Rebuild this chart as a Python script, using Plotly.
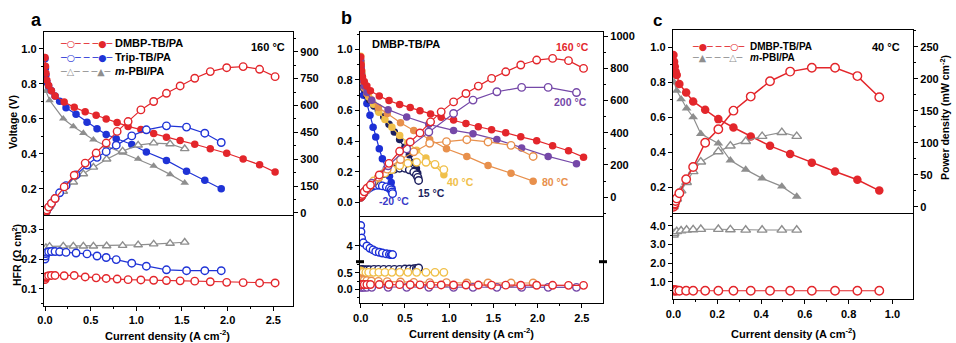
import plotly.graph_objects as go

# ---------------- data ----------------
# 160 °C DMBP-TB/PA (panels a and b)
j160 = [0, 0.005, 0.01, 0.02, 0.04, 0.07, 0.11, 0.21, 0.32, 0.44, 0.56, 0.67, 0.79, 0.91, 1.05, 1.19, 1.33, 1.48, 1.64, 1.81, 1.99, 2.17, 2.35, 2.52]
v160 = [0.95, 0.90, 0.86, 0.82, 0.79, 0.76, 0.73, 0.695, 0.665, 0.64, 0.62, 0.598, 0.578, 0.556, 0.538, 0.515, 0.494, 0.475, 0.454, 0.428, 0.403, 0.37, 0.337, 0.295]
p160_a = [0, 4, 9, 16, 32, 53, 80, 145, 210, 278, 334, 390, 455, 510, 575, 622, 668, 709, 752, 789, 811, 817, 802, 761]
p160_b = [0, 5, 9, 17, 33, 55, 75, 138, 210, 285, 343, 399, 468, 530, 592, 644, 690, 738, 779, 821, 852, 862, 848, 800]
hfr160 = [0.131, 0.136, 0.14, 0.142, 0.144, 0.145, 0.145, 0.144, 0.145, 0.14, 0.137, 0.135, 0.133, 0.131, 0.13, 0.129, 0.128, 0.127, 0.126, 0.124, 0.122, 0.121, 0.12, 0.12]

# Trip-TB/PA 160 °C (panel a)
j_trip = [0, 0.005, 0.01, 0.02, 0.04, 0.07, 0.11, 0.16, 0.23, 0.34, 0.46, 0.57, 0.67, 0.78, 0.95, 1.11, 1.33, 1.55, 1.75, 1.93]
v_trip = [0.943, 0.89, 0.85, 0.81, 0.787, 0.76, 0.73, 0.70, 0.663, 0.625, 0.58, 0.543, 0.51, 0.486, 0.453, 0.41, 0.362, 0.30, 0.248, 0.20]
p_trip = [0, 4, 9, 16, 31, 53, 80, 112, 152, 212, 267, 310, 342, 378, 430, 464, 486, 479, 445, 393]
hfr_trip = [0.20, 0.21, 0.218, 0.222, 0.224, 0.225, 0.225, 0.224, 0.222, 0.22, 0.217, 0.21, 0.205, 0.198, 0.186, 0.176, 0.164, 0.161, 0.161, 0.161]

# m-PBI/PA 160 °C (panel a)
j_mpbi_a = [0, 0.01, 0.05, 0.2, 0.31, 0.42, 0.53, 0.675, 0.85, 1.02, 1.19, 1.37, 1.53]
v_mpbi_a = [0.80, 0.758, 0.705, 0.60, 0.556, 0.518, 0.48, 0.443, 0.405, 0.37, 0.33, 0.282, 0.234]
p_mpbi_a = [0, 8, 37, 120, 172, 218, 255, 300, 345, 378, 390, 385, 358]
hfr_mpbi_a = [0.231, 0.238, 0.242, 0.243, 0.243, 0.243, 0.243, 0.244, 0.245, 0.247, 0.25, 0.252, 0.256]

# DMBP-TB/PA at other temperatures (panel b)
j200 = [0, 0.005, 0.01, 0.02, 0.04, 0.07, 0.125, 0.31, 0.52, 0.77, 1.05, 1.27, 1.54, 1.82, 2.12, 2.44]
v200 = [0.93, 0.88, 0.84, 0.80, 0.76, 0.72, 0.667, 0.606, 0.558, 0.51, 0.47, 0.449, 0.41, 0.355, 0.30, 0.252]
p200 = [0, 4, 9, 17, 32, 53, 86, 195, 300, 405, 520, 603, 655, 682, 682, 650]
hfr200 = [0.07, 0.07, 0.07, 0.06, 0.06, 0.06, 0.06, 0.06, 0.06, 0.06, 0.06, 0.06, 0.06, 0.06, 0.06, 0.06]

j80 = [0, 0.005, 0.01, 0.02, 0.04, 0.07, 0.12, 0.2, 0.3, 0.45, 0.6, 0.78, 0.97, 1.2, 1.44, 1.70, 1.95]
v80 = [0.92, 0.87, 0.83, 0.79, 0.75, 0.71, 0.67, 0.62, 0.58, 0.52, 0.47, 0.41, 0.35, 0.30, 0.24, 0.19, 0.138]
p80 = [0, 4, 8, 16, 30, 50, 80, 124, 174, 234, 282, 335, 345, 357, 343, 322, 253]
hfr80 = [0.32, 0.30, 0.29, 0.28, 0.27, 0.26, 0.25, 0.24, 0.23, 0.22, 0.21, 0.20, 0.20, 0.19, 0.19, 0.19, 0.19]

# 40 °C DMBP-TB/PA (panels b and c)
j40 = [0, 0.003, 0.006, 0.01, 0.015, 0.027, 0.058, 0.09, 0.145, 0.205, 0.274, 0.353, 0.441, 0.533, 0.632, 0.738, 0.84, 0.94]
v40 = [0.956, 0.918, 0.89, 0.86, 0.842, 0.79, 0.741, 0.69, 0.642, 0.589, 0.541, 0.49, 0.436, 0.39, 0.34, 0.289, 0.242, 0.18]
p40 = [0, 3, 5, 9, 13, 21, 43, 62, 100, 121, 150, 172, 196, 211, 217, 217, 204, 171]
hfr40 = [0.55, 0.53, 0.52, 0.52, 0.52, 0.51, 0.51, 0.51, 0.51, 0.51, 0.51, 0.51, 0.51, 0.51, 0.51, 0.51, 0.51, 0.51]

j15 = [0, 0.005, 0.01, 0.02, 0.04, 0.07, 0.10, 0.15, 0.20, 0.26, 0.32, 0.38, 0.44, 0.50, 0.55, 0.60, 0.63, 0.645, 0.655]
v15 = [0.92, 0.86, 0.82, 0.78, 0.74, 0.70, 0.67, 0.63, 0.60, 0.56, 0.51, 0.46, 0.41, 0.36, 0.31, 0.26, 0.22, 0.19, 0.16]
p15 = [0, 4, 8, 16, 30, 49, 67, 95, 120, 146, 163, 175, 180, 180, 170, 156, 139, 123, 104]
hfr15 = [0.58, 0.58, 0.59, 0.59, 0.59, 0.59, 0.59, 0.60, 0.60, 0.60, 0.60, 0.60, 0.60, 0.61, 0.61, 0.62, 0.63, 0.63, 0.64]

jm20 = [0, 0.003, 0.01, 0.03, 0.07, 0.105, 0.14, 0.17, 0.21, 0.245, 0.29, 0.325, 0.345, 0.355, 0.36]
vm20 = [0.88, 0.80, 0.755, 0.70, 0.646, 0.57, 0.49, 0.427, 0.35, 0.285, 0.22, 0.17, 0.13, 0.09, 0.06]
pm20 = [0, 2, 8, 21, 45, 60, 69, 73, 74, 70, 64, 55, 45, 32, 22]
hfrm20 = [5.3, 4.9, 4.5, 4.2, 4.0, 3.85, 3.75, 3.65, 3.6, 3.55, 3.5, 3.47, 3.45, 3.45, 3.45]

# m-PBI/PA 40 °C (panel c)
j_mpbi_c = [0, 0.003, 0.015, 0.035, 0.06, 0.09, 0.125, 0.205, 0.26, 0.33, 0.405, 0.495, 0.563]
v_mpbi_c = [0.90, 0.80, 0.752, 0.703, 0.651, 0.60, 0.505, 0.45, 0.353, 0.30, 0.25, 0.204, 0.146]
p_mpbi_c = [0, 3, 12, 25, 38, 55, 70, 86, 95, 102, 110, 116, 110]
hfr_mpbi_c = [3.51, 3.60, 3.70, 3.74, 3.78, 3.80, 3.82, 3.82, 3.80, 3.78, 3.78, 3.78, 3.78]

# ---------------- styling ----------------
RED = '#e3262b'
BLUE = '#1f33d6'
GREY = '#8e8e8e'
PURPLE = '#7548a8'
ORANGE = '#e8904c'
YELLOW = '#f0c04a'
NAVY = '#1c1f5e'
M20 = '#1c2fd6'

W, H = 956, 343
def PX(x): return x / W
def PY(y): return 1 - y / H

fig = go.Figure()

def series(x, y, xa, ya, color, sym, filled, size=7.5, lw=1.2):
    if filled:
        marker = dict(symbol=sym, size=size, color=color, line=dict(width=0))
    else:
        marker = dict(symbol=sym, size=size, color='white', line=dict(color=color, width=1.4))
    fig.add_trace(go.Scatter(x=x, y=y, xaxis=xa, yaxis=ya, mode='lines+markers',
                             line=dict(color=color, width=lw), marker=marker,
                             showlegend=False, hoverinfo='skip'))

# panel a
series(j_mpbi_a, p_mpbi_a, 'x', 'y2', GREY, 'triangle-up', False)
series(j_trip, p_trip, 'x', 'y2', BLUE, 'circle', False)
series(j160, p160_a, 'x', 'y2', RED, 'circle', False)
series(j_mpbi_a, v_mpbi_a, 'x', 'y', GREY, 'triangle-up', True)
series(j_trip, v_trip, 'x', 'y', BLUE, 'circle', True)
series(j160, v160, 'x', 'y', RED, 'circle', True)
series(j_mpbi_a, hfr_mpbi_a, 'x2', 'y3', GREY, 'triangle-up', False)
series(j_trip, hfr_trip, 'x2', 'y3', BLUE, 'circle', False)
series(j160, hfr160, 'x2', 'y3', RED, 'circle', False)

# panel b
for (jj, vv, pp, hh, col, hy) in [
        (jm20, vm20, pm20, hfrm20, M20, 'y7'),
        (j15, v15, p15, hfr15, NAVY, 'y6'),
        (j40, v40, p40, hfr40, YELLOW, 'y6'),
        (j80, v80, p80, hfr80, ORANGE, 'y6'),
        (j200, v200, p200, hfr200, PURPLE, 'y6'),
        (j160, v160, p160_b, hfr160, RED, 'y6')]:
    series(jj, pp, 'x3', 'y5', col, 'circle', False)
    series(jj, vv, 'x3', 'y4', col, 'circle', True)
    series(jj, hh, 'x4', hy, col, 'circle', False)

# panel c
series(j_mpbi_c, p_mpbi_c, 'x5', 'y9', GREY, 'triangle-up', False, size=8.5)
series(j40, p40, 'x5', 'y9', RED, 'circle', False, size=8.5, lw=1.5)
series(j_mpbi_c, v_mpbi_c, 'x5', 'y8', GREY, 'triangle-up', True, size=8.5)
series(j40, v40, 'x5', 'y8', RED, 'circle', True, size=8.5, lw=1.5)
series(j_mpbi_c, hfr_mpbi_c, 'x6', 'y10', GREY, 'triangle-up', False, size=8.5)
series(j40, hfr40, 'x6', 'y10', RED, 'circle', False, size=8.5)

TF = dict(family='Liberation Sans', size=11, color='black', weight='bold')
base = dict(showline=True, linecolor='black', linewidth=1.3, showgrid=False, zeroline=False,
            ticks='outside', ticklen=4, tickwidth=1.2, tickcolor='black', tickfont=TF,
            automargin=False)
def minor(d, t0=0):
    return dict(ticks='outside', ticklen=2, tickwidth=1, tickcolor='black', dtick=d, tick0=t0)

def upper_x(dom, anchor, rng):
    return {**base, 'domain': dom, 'anchor': anchor, 'range': rng, 'ticks': '',
            'showticklabels': False, 'mirror': True}
def lower_x(dom, anchor, rng, dt, mn):
    return {**base, 'domain': dom, 'anchor': anchor, 'range': rng, 'dtick': dt, 'tick0': 0,
            'tickformat': '.1f', 'minor': minor(mn)}

xa = [PX(44), PX(293)]
xb = [PX(360), PX(603)]
xc = [PX(673), PX(913)]

layout = dict(
    width=W, height=H, margin=dict(l=0, r=0, t=0, b=0, pad=0), autosize=False,
    paper_bgcolor='white', plot_bgcolor='white', showlegend=False,
    # panel a
    xaxis=upper_x(xa, 'y', [-0.011, 2.716]),
    yaxis={**base, 'domain': [PY(215), PY(31.7)], 'anchor': 'x', 'range': [0.05, 1.097],
           'tick0': 0.2, 'dtick': 0.2, 'tickformat': '.1f', 'minor': minor(0.1)},
    yaxis2={**base, 'overlaying': 'y', 'side': 'right', 'anchor': 'x', 'range': [-12, 1012],
            'tick0': 0, 'dtick': 150, 'minor': minor(75)},
    xaxis2=lower_x(xa, 'y3', [-0.011, 2.716], 0.5, 0.25),
    yaxis3={**base, 'domain': [PY(306), PY(215)], 'anchor': 'x2', 'range': [0.043, 0.347],
            'tick0': 0.1, 'dtick': 0.1, 'tickformat': '.1f', 'mirror': True, 'minor': minor(0.05)},
    # panel b
    xaxis3=upper_x(xb, 'y4', [-0.008, 2.74]),
    yaxis4={**base, 'domain': [PY(216), PY(31.7)], 'anchor': 'x3', 'range': [-0.09, 1.116],
            'tick0': 0, 'dtick': 0.2, 'tickformat': '.1f', 'minor': minor(0.1)},
    yaxis5={**base, 'overlaying': 'y4', 'side': 'right', 'anchor': 'x3', 'range': [-117, 1028],
            'tick0': 0, 'dtick': 200, 'minor': minor(100)},
    xaxis4=lower_x(xb, 'y6', [-0.008, 2.74], 0.5, 0.25),
    yaxis6={**base, 'domain': [PY(303.3), PY(261.7)], 'anchor': 'x4', 'range': [-0.42, 0.83],
            'tick0': 0, 'dtick': 0.5, 'tickformat': '.1f', 'mirror': True, 'minor': minor(0.25)},
    yaxis7={**base, 'domain': [PY(261.7), PY(216)], 'anchor': 'x4', 'range': [3.0, 5.9],
            'tickmode': 'array', 'tickvals': [4], 'ticktext': ['4'], 'mirror': True},
    # panel c
    xaxis5=upper_x(xc, 'y8', [-0.002, 1.094]),
    yaxis8={**base, 'domain': [PY(213.3), PY(30)], 'anchor': 'x5', 'range': [0.05, 1.099],
            'tick0': 0.2, 'dtick': 0.2, 'tickformat': '.1f', 'minor': minor(0.1)},
    yaxis9={**base, 'overlaying': 'y8', 'side': 'right', 'anchor': 'x5', 'range': [-10.3, 276],
            'tick0': 0, 'dtick': 50, 'minor': minor(25)},
    xaxis6=lower_x(xc, 'y10', [-0.002, 1.094], 0.2, 0.1),
    yaxis10={**base, 'domain': [PY(299.3), PY(213.3)], 'anchor': 'x6', 'range': [0.05, 4.68],
             'tick0': 1, 'dtick': 1, 'tickformat': '.1f', 'mirror': True, 'minor': minor(0.5, 0.5)},
)
fig.update_layout(**layout)

# axis break marks (panel b, lower)
for xx in (360, 603):
    fig.add_shape(type='line', xref='paper', yref='paper', x0=PX(xx - 4), x1=PX(xx + 4),
                  y0=PY(261.7), y1=PY(261.7), line=dict(color='black', width=3))

def ann(text, x, y, size=11, color='black', xanchor='center', angle=0, family='Liberation Sans'):
    fig.add_annotation(text=text, x=PX(x), y=PY(y), xref='paper', yref='paper', showarrow=False,
                       xanchor=xanchor, yanchor='middle', textangle=angle,
                       font=dict(family=family, size=size, color=color))

# panel letters
ann('<b>a</b>', 36, 20, size=18)
ann('<b>b</b>', 346, 18, size=18)
ann('<b>c</b>', 657, 21, size=17)

# axis titles
ann('<b>Voltage (V)</b>', 13, 122, size=10.5, angle=-90)
ann('<b>HFR (Ω cm<sup>2</sup>)</b>', 16, 255, size=10.5, angle=-90)
ann('<b>Power density (mW cm<sup>-2</sup>)</b>', 944, 118, size=10.5, angle=-90)
ann('<b>Current density (A cm<sup>-2</sup>)</b>', 167, 335, size=11)
ann('<b>Current density (A cm<sup>-2</sup>)</b>', 471, 333, size=11)
ann('<b>Current density (A cm<sup>-2</sup>)</b>', 793, 333, size=11)

# panel a legend and label
ann('<b>160 °C</b>', 268, 47, size=11)
SYMF = 'DejaVu Sans'
ann(f'<span style="color:{RED}">─○─ ─ ─●─</span>', 58, 43, size=9.5, xanchor='left', family=SYMF)
ann(f'<span style="color:{BLUE}">─○─ ─ ─●─</span>', 58, 57, size=9.5, xanchor='left', family=SYMF)
ann(f'<span style="color:{GREY}">─△─ ─ ─▲─</span>', 58, 71, size=9.5, xanchor='left', family=SYMF)
ann('<b>DMBP-TB/PA</b>', 113, 43, size=11, xanchor='left')
ann('<b>Trip-TB/PA</b>', 113, 57, size=11, xanchor='left')
ann('<b><i>m</i>-PBI/PA</b>', 113, 71, size=11, xanchor='left')

# panel b labels
ann('<b>DMBP-TB/PA</b>', 370, 44, size=11, xanchor='left')
ann('<b>160 °C</b>', 572, 47, size=10.5, color=RED)
ann('<b>200 °C</b>', 570, 102, size=10.5, color=PURPLE)
ann('<b>80 °C</b>', 540, 182, size=10.5, color=ORANGE, xanchor='left')
ann('<b>40 °C</b>', 460, 182, size=10.5, color=YELLOW)
ann('<b>15 °C</b>', 431, 193, size=10.5, color=NAVY)
ann('<b>-20 °C</b>', 394, 201, size=10.5, color='#3a3ac8')

# panel c legend and label
ann('<b>40 °C</b>', 886, 47, size=11)
ann(f'<span style="color:{RED}">─●─ ─ ─○─</span>', 690, 46.5, size=9.5, xanchor='left', family=SYMF)
ann(f'<span style="color:{GREY}">─▲─ ─ ─△─</span>', 690, 57, size=9.5, xanchor='left', family=SYMF)
ann('<b>DMBP-TB/PA</b>', 748, 46.5, size=10, xanchor='left')
ann('<b><i>m</i>-PBI/PA</b>', 748, 57.5, size=10, xanchor='left')

fig.write_html('out.html', config={'displayModeBar': False},
               post_script="document.body.style.margin='0';document.body.style.padding='0';")
